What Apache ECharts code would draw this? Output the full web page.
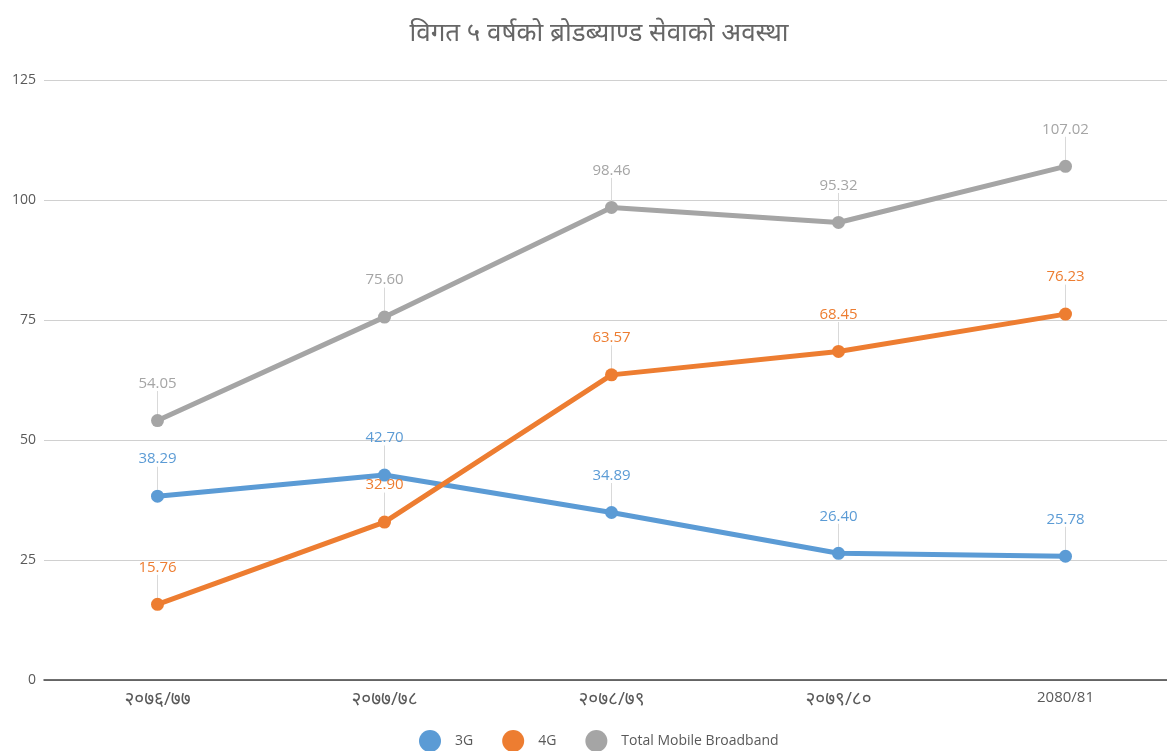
<!DOCTYPE html>
<html>
<head>
<meta charset="utf-8">
<style>
    html, body { margin: 0; padding: 0; background: #fff; }
    #chart { width: 1167px; height: 751px; }
</style>
<script src="https://cdn.jsdelivr.net/npm/echarts@6/dist/echarts.min.js"></script>
</head>
<body>
<div id="chart"></div>
<script>
    // data
    var years = ['२०७६/७७', '२०७७/७८', '२०७८/७९', '२०७९/८०', '2080/81'];
    var g3 = [38.29, 42.70, 34.89, 26.40, 25.78];
    var g4 = [15.76, 32.90, 63.57, 68.45, 76.23];
    var total = [54.05, 75.60, 98.46, 95.32, 107.02];
    var names = ['3G', '4G', 'Total Mobile Broadband'];
    var colors = ['#5b9bd5', '#ed7d31', '#a5a5a5'];

    var font = '"Open Sans", "Noto Sans", "Noto Sans Devanagari", sans-serif';

    function makeSeries(name, data, color) {
        return {
            name: name,
            type: 'line',
            data: data,
            symbol: 'circle',
            symbolSize: 13,
            itemStyle: { color: color },
            lineStyle: { width: 5, color: color },
            label: {
                show: true,
                position: 'top',
                distance: 8,
                color: color,
                fontSize: 15,
                fontFamily: font,
                formatter: function (p) { return p.value.toFixed(2); }
            },
            labelLayout: { dy: -15 },
            labelLine: { show: true, lineStyle: { color: '#d9d9d9', width: 1 } }
        };
    }

    var myChart = echarts.init(document.getElementById('chart'));
    var option = {
        title: {
            text: 'विगत ५ वर्षको ब्रोडब्याण्ड सेवाको अवस्था',
            left: 594,
            textAlign: 'center',
            top: 16,
            textStyle: { color: '#666666', fontSize: 26, fontWeight: 'normal', fontFamily: font }
        },
        legend: {
            data: names,
            top: 725,
            left: 414,
            icon: 'circle',
            itemWidth: 22,
            itemHeight: 22,
            itemGap: 29,
            textStyle: { color: '#595959', fontSize: 14, fontFamily: font, padding: [0, 0, 0, 9] }
        },
        grid: {
            left: 44,
            width: 1135,
            top: 80,
            height: 600,
            outerBoundsMode: 'none'
        },
        xAxis: {
            type: 'category',
            data: years,
            boundaryGap: true,
            axisLine: { lineStyle: { color: '#404040', width: 1.5 } },
            axisTick: { show: false },
            axisLabel: {
                color: '#595959',
                fontSize: 15,
                margin: 10,
                fontFamily: font,
                formatter: function (v) {
                    return /[\u0900-\u097F]/.test(v) ? '{d|' + v + '}' : v;
                },
                rich: {
                    d: { fontSize: 19, color: '#595959', fontFamily: font }
                }
            }
        },
        yAxis: {
            type: 'value',
            min: 0,
            max: 125,
            interval: 25,
            axisLine: { show: false },
            axisTick: { show: false },
            splitLine: { lineStyle: { color: '#d0d0d0', width: 1 } },
            axisLabel: { color: '#595959', fontSize: 14, margin: 8, fontFamily: font }
        },
        series: [
            makeSeries(names[0], g3, colors[0]),
            makeSeries(names[1], g4, colors[1]),
            makeSeries(names[2], total, colors[2])
        ]
    };

    myChart.setOption(option);
    window.onresize = function () {
        myChart.resize();
    };
</script>
</body>
</html>
